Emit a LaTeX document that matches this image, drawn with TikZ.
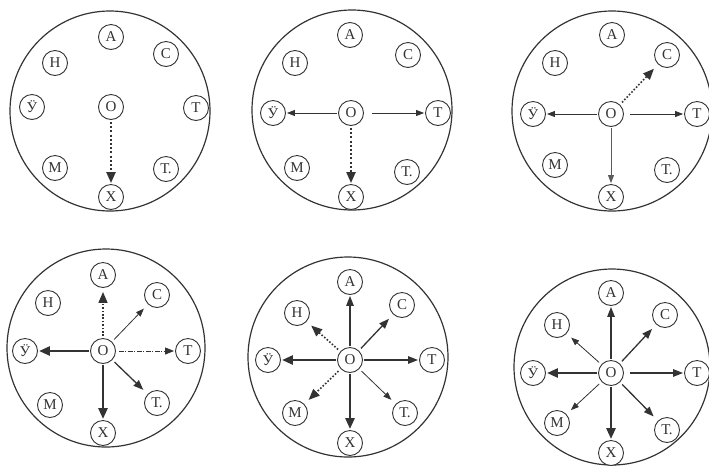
\documentclass[tikz,border=0pt]{standalone}
\usepackage{fontspec}
\setmainfont{Liberation Serif}
\usetikzlibrary{arrows.meta}
\definecolor{ink}{HTML}{333333}
\tikzset{
  big/.style={draw=ink, line width=1.2pt, circle, minimum size=#1, inner sep=0pt},
  sm/.style={draw=ink, line width=0.9pt, circle, minimum size=25pt, inner sep=0pt, fill=white, text=ink, font=\fontsize{15}{15}\selectfont},
  thinA/.style={draw=ink, line width=0.8pt, -{Triangle[length=8pt,width=6pt]}, shorten <=1pt, shorten >=1pt},
  medA/.style={draw=ink, line width=1.3pt, -{Triangle[length=10pt,width=7.5pt]}, shorten <=1pt, shorten >=1pt},
  thickA/.style={draw=ink, line width=2.6pt, -{Triangle[length=11pt,width=9pt]}, shorten <=1pt, shorten >=1pt},
  dotA/.style={draw=ink, line width=2.2pt, dash pattern=on 2pt off 2.2pt, -{Triangle[length=11pt,width=9pt]}, shorten <=2pt, shorten >=1pt},
  dotthinA/.style={draw=ink, line width=1.6pt, dash pattern=on 1.6pt off 1.8pt, -{Triangle[length=11pt,width=9pt]}, shorten <=2pt, shorten >=1pt},
  dashA/.style={draw=ink, line width=0.9pt, dash pattern=on 5pt off 1.5pt on 1pt off 1.5pt, -{Triangle[length=9pt,width=7pt]}, shorten <=3pt, shorten >=1pt},
  diag/.style={shorten >=6pt, shorten <=3pt},
}
\begin{document}
\begin{tikzpicture}[x=1pt,y=-1pt]
\useasboundingbox (0,0) rectangle (709,467);
% ---------------- panel 1
\node[big=200pt] (aB) at (110,111) {};
\node[sm] (aO) at (111,107) {О};
\node[sm] (aA) at (111,37) {А};
\node[sm] (aC) at (166,54) {С};
\node[sm] (aH) at (55,63) {Н};
\node[sm] (aY) at (32,107) {Ӱ};
\node[sm] (aT) at (196,108) {Т};
\node[sm] (aM) at (55,168) {М};
\node[sm] (aP) at (166,169) {Т.};
\node[sm] (aX) at (111,197) {Х};
\draw[dotA] (aO) -- (aX);
% ---------------- panel 2
\node[big=200pt] (bB) at (352,110) {};
\node[sm] (bO) at (351,113) {О};
\node[sm] (bA) at (350,35) {А};
\node[sm] (bC) at (408,55) {С};
\node[sm] (bH) at (295,63) {Н};
\node[sm] (bY) at (273,113) {Ӱ};
\node[sm] (bT) at (438,113) {Т};
\node[sm] (bM) at (297,168) {М};
\node[sm] (bP) at (407,172) {Т.};
\node[sm] (bX) at (351,197) {Х};
\draw[thinA] (bO) -- (bY);
\draw[thinA, shorten <=8pt] (bO) -- (bT);
\draw[dotA] (bO) -- (bX);
% ---------------- panel 3
\node[big=200pt] (cB) at (612,111) {};
\node[sm] (cO) at (611,114) {О};
\node[sm] (cA) at (612,35) {А};
\node[sm] (cC) at (667,55) {С};
\node[sm] (cH) at (555,63) {Н};
\node[sm] (cY) at (533,114) {Ӱ};
\node[sm] (cT) at (697,114) {Т};
\node[sm] (cM) at (555,165) {М};
\node[sm] (cP) at (667,170) {Т.};
\node[sm] (cX) at (611,197) {Х};
\draw[thinA] (cO) -- (cY);
\draw[thinA, shorten <=6pt] (cO) -- (cT);
\draw[thinA, draw=ink!80] (cO) -- (cX);
\draw[dotthinA, diag] (cO) -- (cC);
% ---------------- panel 4
\node[big=198pt] (dB) at (106,348) {};
\node[sm] (dO) at (103,351) {О};
\node[sm] (dA) at (103,275) {А};
\node[sm] (dC) at (157,295) {С};
\node[sm] (dH) at (48,303) {Н};
\node[sm] (dY) at (25,351) {Ӱ};
\node[sm] (dT) at (188,351) {Т};
\node[sm] (dM) at (50,405) {М};
\node[sm] (dP) at (157,403) {Т.};
\node[sm] (dX) at (103,433) {Х};
\draw[dotthinA, shorten >=4pt] (dO) -- (dA);
\draw[thinA, diag] (dO) -- (dC);
\draw[dashA] (dO) -- (dT);
\draw[medA, diag] (dO) -- (dP);
\draw[thickA] (dO) -- (dX);
\draw[thickA] (dO) -- (dY);
% ---------------- panel 5
\node[big=200pt] (eB) at (348,357) {};
\node[sm] (eO) at (350,360) {О};
\node[sm] (eA) at (350,282) {А};
\node[sm] (eC) at (402,305) {С};
\node[sm] (eH) at (297,313) {Н};
\node[sm] (eY) at (268,360) {Ӱ};
\node[sm] (eT) at (432,360) {Т};
\node[sm] (eM) at (295,413) {М};
\node[sm] (eP) at (405,413) {Т.};
\node[sm] (eX) at (350,443) {Х};
\draw[medA] (eO) -- (eA);
\draw[medA, diag] (eO) -- (eC);
\draw[medA] (eO) -- (eT);
\draw[thinA, diag] (eO) -- (eP);
\draw[thickA] (eO) -- (eX);
\draw[thickA] (eO) -- (eY);
\draw[dotthinA, diag] (eO) -- (eH);
\draw[dotthinA, diag] (eO) -- (eM);
% ---------------- panel 6
\node[big=196pt] (fB) at (612,367) {};
\node[sm] (fO) at (611,373) {О};
\node[sm] (fA) at (611,293) {А};
\node[sm] (fC) at (665,315) {С};
\node[sm] (fH) at (557,325) {Н};
\node[sm] (fY) at (533,373) {Ӱ};
\node[sm] (fT) at (697,373) {Т};
\node[sm] (fM) at (557,423) {М};
\node[sm] (fP) at (667,430) {Т.};
\node[sm] (fX) at (611,453) {Х};
\draw[medA] (fO) -- (fA);
\draw[medA, diag] (fO) -- (fC);
\draw[medA, shorten <=6pt] (fO) -- (fT);
\draw[medA, diag] (fO) -- (fP);
\draw[thickA] (fO) -- (fX);
\draw[thickA] (fO) -- (fY);
\draw[thinA, diag] (fO) -- (fH);
\draw[thinA, diag] (fO) -- (fM);
\end{tikzpicture}
\end{document}
